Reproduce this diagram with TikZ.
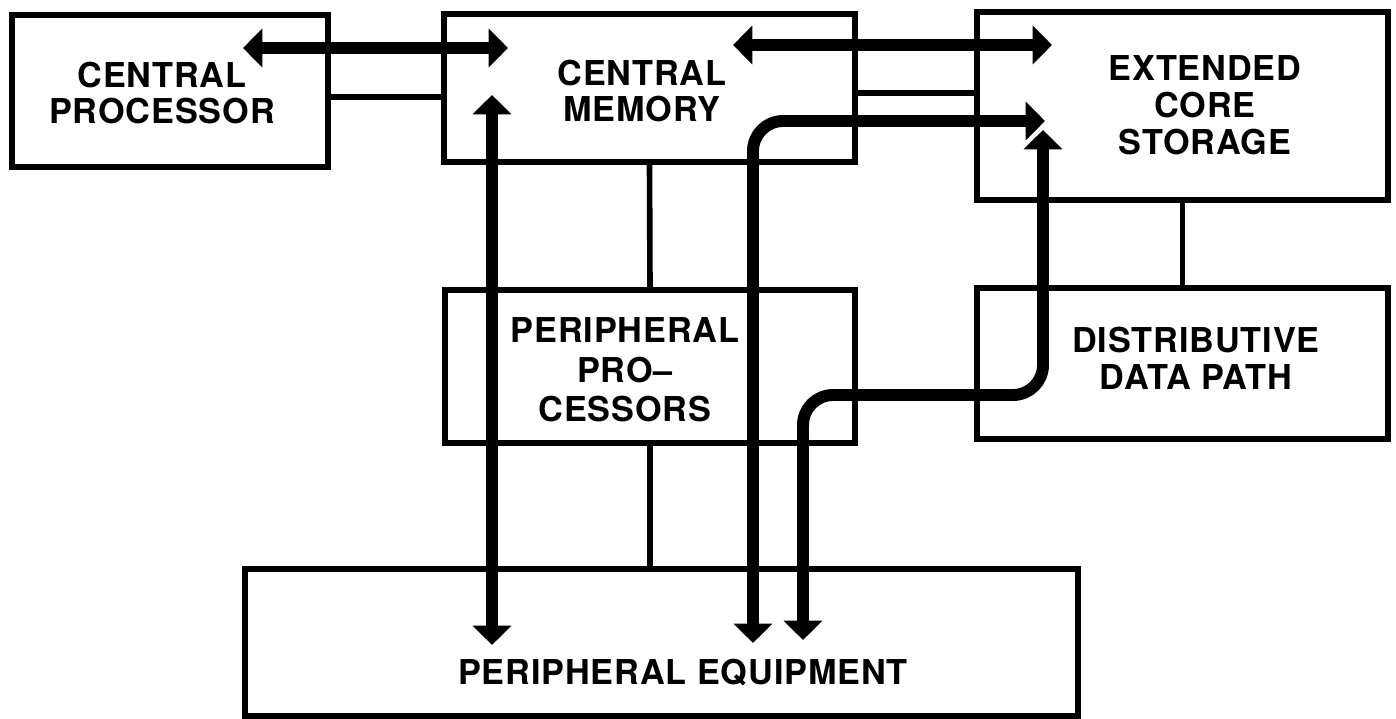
\documentclass[tikz,border=0pt]{standalone}
\usepackage{fontspec}
\setmainfont{TeX Gyre Heros}[LetterSpace=2.5]
\usetikzlibrary{positioning, arrows.meta, calc}
\tikzset{
  unit/.style={draw, line width=3.4pt, outer sep=0pt, inner sep=0pt},
  lbl/.style={align=center, inner sep=0pt, font=\bfseries\fontsize{19.5}{21}\selectfont},
  link/.style={line width=3.2pt},
  bus/.style={line width=6.8pt, rounded corners=0.6cm,
    {Triangle[length=11pt,width=21.5pt]}-{Triangle[length=11pt,width=21.5pt]}}
}

\begin{document}
\begin{tikzpicture}[x=0.02cm, y=-0.02cm]
  \useasboundingbox (0,0) rectangle (1396,719);
  % units
  \node[unit, minimum width=6.32cm, minimum height=3.04cm] (cp) at (170,91) {};
  \node[unit, minimum width=8.22cm, minimum height=2.96cm] (cm) at (649.5,88) {};
  \node[unit, minimum width=8.22cm, minimum height=3.76cm] (ecs) at (1182.5,106) {};
  \node[unit, minimum width=8.2cm, minimum height=3.06cm] (pp) at (650,366.5) {};
  \node[unit, minimum width=8.22cm, minimum height=3.02cm] (ddp) at (1182.5,363.5) {};
  \node[unit, minimum width=16.66cm, minimum height=2.94cm] (pe) at (661.5,642.5) {};
  \node[lbl] (cp-txt) at (162,93) {CENTRAL\\PROCESSOR};
  \node[lbl] (cm-txt) at (642,91) {CENTRAL\\MEMORY};
  \node[lbl] (ecs-txt) at (1205,105) {EXTENDED\\CORE\\STORAGE};
  \node[lbl, font=\bfseries\fontsize{19.5}{22.5}\selectfont] (pp-txt) at (625,370) {PERIPHERAL\\PRO--\\CESSORS};
  \node[lbl] (ddp-txt) at (1196,358) {DISTRIBUTIVE\\DATA PATH};
  \node[lbl] (pe-txt) at (683,673) {PERIPHERAL EQUIPMENT};

  % plain links
  \draw[link] (cp.east |- 0,97) -- (cm.west |- 0,97);
  \draw[link] (cm.east |- 0,93) -- (ecs.west |- 0,93);
  \draw[link] (cm.south) -- (pp.north);
  \draw[link] (pp.south) -- (pp.south |- pe.north);
  \draw[link] (ecs.south) -- (ddp.north);

  % data paths
  \coordinate (cp-a) at (243,48);
  \coordinate (cm-a) at (508,48);
  \coordinate (cm-b) at (733,45);
  \coordinate (ecs-b) at (1052,45);
  \coordinate (cm-c) at (492,95);
  \coordinate (pe-c) at (492,645);
  \coordinate (pe-d) at (753,643);
  \coordinate (ecs-d) at (1045,121);
  \coordinate (pe-e) at (803,640);
  \coordinate (ddp-bend) at (1043,395);
  \coordinate (ecs-e) at (1043,130);
  \draw[bus] (cp-a) -- (cm-a);
  \draw[bus] (cm-b) -- (ecs-b);
  \draw[bus] (cm-c) -- (pe-c);
  \draw[bus] (pe-d) |- (ecs-d);
  \draw[bus] (pe-e) |- (ddp-bend) -- (ecs-e);
\end{tikzpicture}
\end{document}
